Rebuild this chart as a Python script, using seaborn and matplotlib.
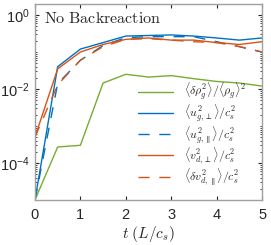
import numpy as np
import pandas as pd
import matplotlib
matplotlib.use("Agg")
import matplotlib.pyplot as plt
import matplotlib.ticker as mticker
import seaborn as sns

# values
t = [0, 0.5, 1, 1.5, 2, 2.5, 3, 3.5, 4, 4.5, 5]
rho_g = [1e-5, 2.7e-4, 3.0e-4, 0.0145, 0.025, 0.021, 0.023, 0.019, 0.016, 0.0145, 0.012]
u_perp = [1e-5, 0.04, 0.12, 0.18, 0.27, 0.28, 0.29, 0.27, 0.24, 0.21, 0.24]
u_par = [1e-5, 0.014, 0.06, 0.15, 0.245, 0.26, 0.26, 0.26, 0.19, 0.14, 0.10]
v_perp = [5e-4, 0.035, 0.10, 0.16, 0.22, 0.24, 0.21, 0.21, 0.18, 0.16, 0.19]
v_par = [5e-4, 0.013, 0.06, 0.14, 0.22, 0.23, 0.21, 0.19, 0.18, 0.14, 0.10]

labels = [r"$\langle\delta\rho_g^2\rangle/\langle\rho_g\rangle^2$",
          r"$\langle u_{g,\perp}^2\rangle/c_s^2$",
          r"$\langle u_{g,\parallel}^2\rangle/c_s^2$",
          r"$\langle v_{d,\perp}^2\rangle/c_s^2$",
          r"$\langle\delta v_{d,\parallel}^2\rangle/c_s^2$"]
series = [rho_g, u_perp, u_par, v_perp, v_par]
colors = ["#77AC30", "#0072BD", "#0072BD", "#D95319", "#D95319"]
dashed = [False, False, True, False, True]

sns.set_style("ticks")
plt.rcParams["mathtext.fontset"] = "cm"
plt.rcParams["font.family"] = ["Liberation Sans", "DejaVu Sans"]

fig = plt.figure(figsize=(2.71, 2.45), dpi=100)
ax = fig.add_axes([0.129, 0.184, 0.838, 0.8])

for lab, y, c, d in zip(labels, series, colors, dashed):
    df = pd.DataFrame({"t": t, "y": y})
    sns.lineplot(data=df, x="t", y="y", ax=ax, color=c, lw=1.0,
                 linestyle=(0, (8, 7)) if d else "-", label=lab)

ax.set_yscale("log")
ax.set_xlim(0, 5)
ax.set_ylim(1e-5, 2)
ax.set_xticks([0, 1, 2, 3, 4, 5])
ax.yaxis.set_major_locator(mticker.FixedLocator([1e-4, 1e-2, 1e0]))
ax.yaxis.set_minor_locator(mticker.LogLocator(base=10, subs=np.arange(1, 10), numticks=20))
ax.yaxis.set_minor_formatter(mticker.NullFormatter())
ax.tick_params(which="both", direction="in", top=True, right=True,
               labelsize=10.5, color="#262626")
ax.tick_params(axis="x", pad=6)
ax.tick_params(axis="y", pad=4)
ax.tick_params(which="major", length=3)
ax.tick_params(which="minor", length=1.5)
for s in ax.spines.values():
    s.set_color("#a0a0a0")
    s.set_linewidth(1.0)
ax.set_xlabel(r"$t\ (L/c_s)$", fontsize=11, labelpad=1)
ax.set_ylabel("")
ax.text(0.04, 0.965, r"$\mathrm{No\ Backreaction}$", transform=ax.transAxes,
        fontsize=11.5, va="top", ha="left")
ax.legend(loc="lower right", bbox_to_anchor=(0.965, 0.02), frameon=False,
          fontsize=8.5, handlelength=3.0, handletextpad=0.9, labelspacing=0.0,
          borderpad=0.2)

fig.savefig("out.png", dpi=100)
